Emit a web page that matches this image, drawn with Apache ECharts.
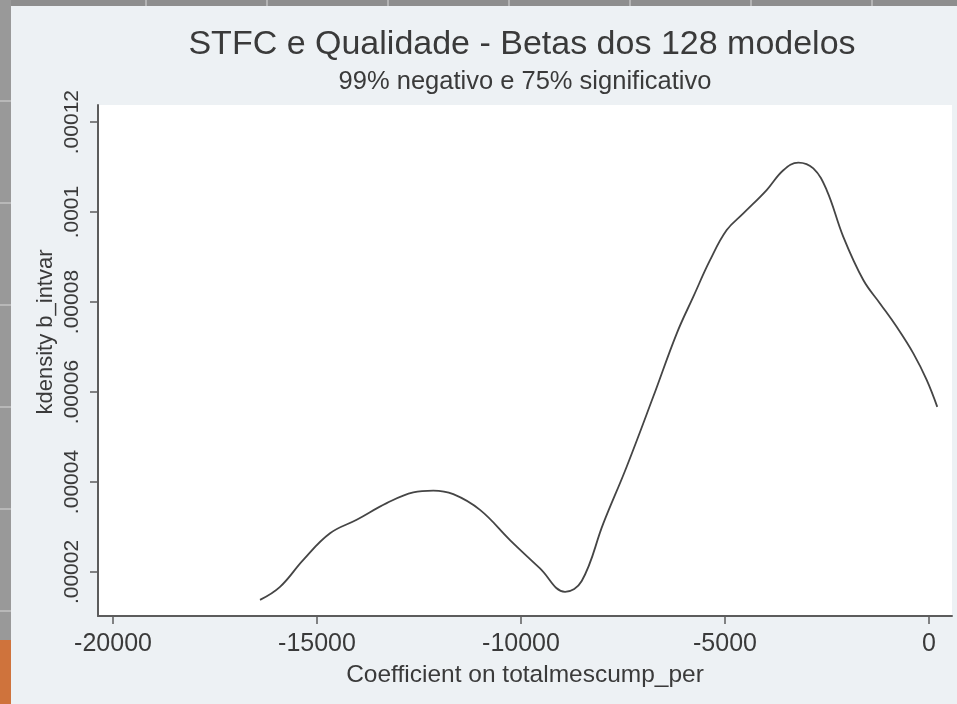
<!DOCTYPE html>
<html>
<head>
<meta charset="utf-8">
<script src="https://cdn.jsdelivr.net/npm/echarts@6/dist/echarts.min.js"></script>
<style>
  html, body { margin: 0; padding: 0; background: #edf1f4; }
  #chart { width: 957px; height: 704px; }
</style>
</head>
<body>
<div id="chart"></div>
<script>
// kdensity of the 128 betas
const betaX = [-16397, -15907, -15336, -14681, -14027, -13292, -12640, -12150, -11660, -11005,
  -10270, -9534, -8921, -8512, -7982, -7410, -6757, -6184, -5776, -5367,
  -4958, -4551, -3979, -3570, -3203, -2835, -2508, -2100, -1610, -1201,
  -793, -384, -57, 203];
const densityY = [0.0000138, 0.0000167, 0.0000227, 0.0000286, 0.0000316, 0.0000353, 0.0000377, 0.0000381, 0.0000373, 0.0000338,
  0.0000271, 0.0000208, 0.0000156, 0.0000180, 0.0000308, 0.0000434, 0.0000590, 0.0000730, 0.0000812, 0.0000893,
  0.0000960, 0.0000997, 0.0001049, 0.0001093, 0.0001110, 0.0001097, 0.0001049, 0.0000945, 0.0000849, 0.0000797,
  0.0000745, 0.0000686, 0.0000627, 0.0000567];

const xTickValues = [-20000, -15000, -10000, -5000, 0];
const xTickLabels = ['-20000', '-15000', '-10000', '-5000', '0'];
const yTickValues = [0.00002, 0.00004, 0.00006, 0.00008, 0.0001, 0.00012];
const yTickLabels = ['.00002', '.00004', '.00006', '.00008', '.0001', '.00012'];

const titleText = 'STFC e Qualidade - Betas dos 128 modelos';
const subtitleText = '99% negativo e 75% significativo';
const xTitle = 'Coefficient on totalmescump_per';
const yTitle = 'kdensity b_intvar';

const font = '"Liberation Sans", Arial, sans-serif';
const ink = '#3a3a3a';

const chart = echarts.init(document.getElementById('chart'));

// slide background strips behind the screenshot
const stripes = [];
for (let x = 145; x < 957; x += 121) {
  stripes.push({ type: 'rect', shape: { x: x, y: 0, width: 2, height: 6 }, style: { fill: '#b4b4b4' }, silent: true });
}
for (let y = 100; y < 640; y += 102) {
  stripes.push({ type: 'rect', shape: { x: 0, y: y, width: 11, height: 2 }, style: { fill: '#b8b8b8' }, silent: true });
}

chart.setOption({
  animation: false,
  backgroundColor: '#edf1f4',
  graphic: [
    { type: 'rect', shape: { x: 0, y: 0, width: 957, height: 6 }, style: { fill: '#8e8e8e' }, silent: true, z: -1 },
    { type: 'rect', shape: { x: 0, y: 0, width: 11, height: 640 }, style: { fill: '#999999' }, silent: true, z: -1 },
    { type: 'rect', shape: { x: 0, y: 640, width: 11, height: 64 }, style: { fill: '#cf733c' }, silent: true, z: -1 },
    // y axis title sits a bit above the middle of the axis in the original
    {
      type: 'text', x: 46, y: 332, rotation: Math.PI / 2,
      style: {
        text: yTitle, fontFamily: font, fontSize: 22, fill: ink,
        textAlign: 'center', textVerticalAlign: 'middle'
      }
    }
  ].concat(stripes),
  title: [
    {
      text: titleText,
      left: 517, top: 23, textAlign: 'center',
      textStyle: { fontFamily: font, fontSize: 34, fontWeight: 'normal', color: ink }
    },
    {
      text: subtitleText,
      left: 520, top: 64, textAlign: 'center',
      textStyle: { fontFamily: font, fontSize: 25.5, fontWeight: 'normal', color: ink }
    }
  ],
  grid: {
    left: 98, right: 5, top: 105, bottom: 88,
    show: true, backgroundColor: '#ffffff', borderWidth: 0
  },
  xAxis: {
    type: 'value',
    min: -20368, max: 564,
    name: xTitle,
    nameLocation: 'middle',
    nameGap: 47,
    nameTextStyle: { fontFamily: font, fontSize: 24.5, color: ink },
    axisLine: { onZero: false, lineStyle: { color: '#5c5c5c', width: 2 } },
    axisTick: { show: true, length: 8, customValues: xTickValues, lineStyle: { color: '#5c5c5c', width: 1.5 } },
    axisLabel: {
      customValues: xTickValues,
      margin: 16,
      fontFamily: font, fontSize: 25, color: ink,
      formatter: v => xTickLabels[xTickValues.indexOf(v)]
    },
    splitLine: { show: false }
  },
  yAxis: {
    type: 'value',
    min: 0.00001022, max: 0.0001238,
    axisLine: { onZero: false, lineStyle: { color: '#5c5c5c', width: 2 } },
    axisTick: { show: true, length: 8, customValues: yTickValues, lineStyle: { color: '#5c5c5c', width: 1.5 } },
    axisLabel: {
      customValues: yTickValues,
      rotate: 90,
      margin: 15,
      fontFamily: font, fontSize: 21, color: ink,
      formatter: v => {
        const i = yTickValues.findIndex(t => Math.abs(t - v) < 1e-9);
        return i >= 0 ? yTickLabels[i] : '';
      }
    },
    splitLine: { show: false }
  },
  series: [
    {
      type: 'line',
      data: betaX.map((x, i) => [x, densityY[i]]),
      smooth: 0.4,
      showSymbol: false,
      lineStyle: { color: '#454545', width: 1.8 }
    }
  ]
});
</script>
</body>
</html>
